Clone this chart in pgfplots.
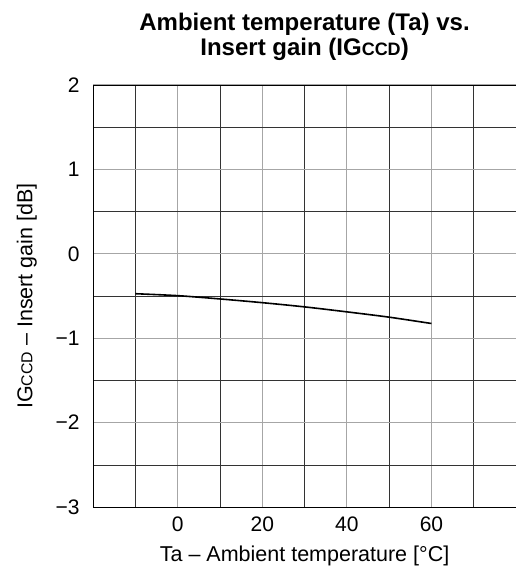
\documentclass[border=0pt]{standalone}
\usepackage{pgfplots}
\pgfplotsset{compat=1.18}
\usepackage{fontspec}
\setmainfont{Liberation Sans}
\newcommand\ccd[1]{{\fontsize{#1}{#1}\selectfont CCD}}
\begin{document}
\begin{tikzpicture}
\begin{axis}[
  scale only axis, width=423pt, height=422pt,
  xmin=-20, xmax=80, ymin=-3, ymax=2,
  xtick={0,20,40,60}, minor xtick={-10,10,30,50,70},
  ytick={-3,-2,-1,0,1,2}, yticklabels={−3,−2,−1,0,1,2},
  minor ytick={-2.5,-1.5,-0.5,0.5,1.5},
  grid=both,
  major grid style={gray!70, line width=1pt},
  minor grid style={black!80, line width=0.6pt},
  major tick length=0pt, minor tick length=0pt,
  axis line style={black, line width=0.8pt},
  tick label style={font=\fontsize{21}{24}\selectfont},
  /pgf/number format/assume math mode=true,
  xticklabel style={yshift=-6pt},
  yticklabel style={xshift=-10pt},
  label style={font=\fontsize{21.5}{24}\selectfont},
  xlabel={Ta – Ambient temperature [°C]},
  ylabel={IG\ccd{15.8} – Insert gain [dB]},
  xlabel style={yshift=-8pt},
  ylabel style={yshift=12pt},
  title={Ambient temperature (Ta) vs.\\Insert gain (IG\ccd{18})},
  title style={font=\bfseries\fontsize{24}{25}\selectfont, align=center, yshift=15pt},
]
\addplot[black, line width=1.6pt, smooth] coordinates {
(-10,-0.473) (0,-0.496) (10,-0.535) (20,-0.579) (30,-0.629) (40,-0.688) (50,-0.751) (60,-0.826)
};
\coordinate (bl) at (rel axis cs:-0.22,-0.1398);
\coordinate (tr) at (rel axis cs:0.998,1.2014);
\end{axis}
\pgfresetboundingbox
\path (bl) rectangle (tr);
\end{tikzpicture}
\end{document}
